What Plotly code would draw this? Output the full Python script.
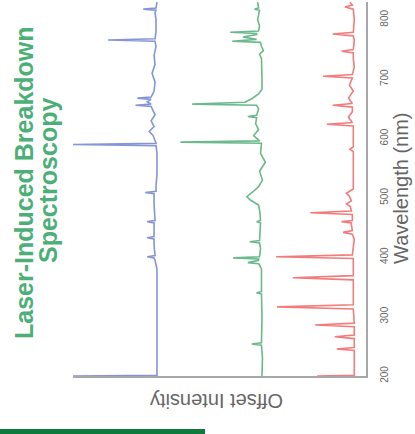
import plotly.graph_objects as go

# Emission spectra (wavelength in nm, relative intensity), one list per sample
blue_wavelength = [200, 201, 300, 380, 395, 399, 401, 403, 420, 431, 433, 435, 452, 458, 460, 462,
                   490, 507, 509, 511, 520, 540, 575, 588, 590, 592, 605, 612, 620, 630, 640, 648,
                   654, 656, 658, 662, 666, 668, 670, 680, 695, 710, 725, 740, 755, 764, 766, 768,
                   780, 800, 812, 816, 818, 820, 830]
blue_intensity = [1.00, 0.14, 0.14, 0.14, 0.16, 0.17, 0.24, 0.16, 0.17, 0.17, 0.24, 0.17, 0.17, 0.17, 0.24, 0.16,
                  0.17, 0.17, 0.26, 0.15, 0.15, 0.14, 0.14, 0.15, 1.00, 0.15, 0.18, 0.22, 0.17, 0.20, 0.16, 0.18,
                  0.20, 0.36, 0.20, 0.24, 0.20, 0.34, 0.20, 0.17, 0.16, 0.19, 0.16, 0.17, 0.15, 0.16, 0.64, 0.16,
                  0.15, 0.15, 0.16, 0.15, 0.28, 0.15, 0.14]

green_wavelength = [200, 230, 252, 254, 256, 300, 338, 340, 342, 380, 387, 389, 391, 395, 397, 399, 401,
                    415, 424, 426, 428, 450, 458, 460, 462, 475, 488, 496, 502, 510, 519, 530, 545,
                    560, 575, 592, 594, 596, 605, 615, 625, 635, 637, 639, 650, 656, 658, 661, 667,
                    675, 683, 700, 720, 735, 742, 748, 755, 762, 764, 767, 771, 775, 777, 779, 781,
                    790, 800, 812, 816, 818, 820, 830]
green_intensity = [0.065, 0.06, 0.07, 0.17, 0.07, 0.065, 0.07, 0.12, 0.07, 0.07, 0.09, 0.10, 0.21, 0.10, 0.10, 0.36, 0.09,
                   0.08, 0.09, 0.19, 0.09, 0.08, 0.08, 0.12, 0.08, 0.085, 0.10, 0.18, 0.22, 0.16, 0.10, 0.06, 0.09,
                   0.03, 0.08, 0.07, 0.90, 0.09, 0.15, 0.10, 0.13, 0.12, 0.21, 0.12, 0.10, 0.12, 0.78, 0.24, 0.17,
                   0.10, 0.065, 0.065, 0.065, 0.07, 0.09, 0.05, 0.07, 0.08, 0.37, 0.12, 0.26, 0.12, 0.12, 0.39, 0.10,
                   0.09, 0.11, 0.09, 0.09, 0.14, 0.10, 0.11]

red_wavelength = [200, 201, 243, 245.6, 248, 263, 266, 269, 283, 286, 289, 313, 316.5, 320, 362, 365.5,
                  369, 398, 401, 404, 430, 439, 442, 445, 455, 458, 460, 462, 472, 475, 478, 485,
                  490, 495, 503, 508, 515, 540, 570, 578, 582, 586, 610, 621, 624, 627, 636, 645,
                  653, 656, 659, 668, 680, 690, 702, 705, 708, 720, 735, 744, 747, 750, 765, 773,
                  776, 779, 800, 818, 821.6, 825, 830]
red_intensity = [0.50, 0.12, 0.12, 0.30, 0.12, 0.12, 0.32, 0.12, 0.12, 0.52, 0.12, 0.13, 0.91, 0.13, 0.13, 0.75,
                 0.13, 0.13, 0.92, 0.14, 0.12, 0.14, 0.235, 0.14, 0.15, 0.15, 0.25, 0.14, 0.14, 0.57, 0.15, 0.16,
                 0.20, 0.15, 0.17, 0.20, 0.13, 0.13, 0.13, 0.13, 0.165, 0.13, 0.13, 0.13, 0.40, 0.14, 0.18, 0.14,
                 0.14, 0.34, 0.14, 0.18, 0.13, 0.17, 0.14, 0.44, 0.14, 0.12, 0.13, 0.13, 0.25, 0.13, 0.12, 0.13,
                 0.34, 0.13, 0.12, 0.13, 0.215, 0.14, 0.165]

# Vertical offsets that separate the stacked spectra
offsets = {"red": 0.0, "green": 1.0, "blue": 2.0}

wavelength_ticks = [200, 300, 400, 500, 600, 700, 800]

colors = {"blue": "#8595d6", "green": "#6bb98c", "red": "#f27c7c"}
title_green = "#4caf78"
bar_green = "#0e7a3c"
axis_gray = "#a8a8a8"
label_gray = "#666666"

W, H = 415, 434
L, R, T, B = 73, 366, 2, 376  # plot area edges in pixels


def px(x):
    return (x - L) / (R - L)


def py(y):
    return (B - y) / (B - T)


fig = go.Figure()
series = [
    ("red", red_wavelength, red_intensity),
    ("green", green_wavelength, green_intensity),
    ("blue", blue_wavelength, blue_intensity),
]
for name, wl, inten in series:
    fig.add_trace(go.Scatter(
        x=[v + offsets[name] for v in inten],
        y=wl,
        mode="lines",
        line=dict(color=colors[name], width=1.6),
        showlegend=False,
        hoverinfo="skip",
    ))

fig.update_layout(
    width=W, height=H,
    margin=dict(l=L, r=W - R, t=T, b=H - B),
    paper_bgcolor="white",
    plot_bgcolor="white",
    font=dict(family="Liberation Sans, Arial, sans-serif", color=label_gray),
    xaxis=dict(
        range=[3.0, 0.0],
        showgrid=False, zeroline=False,
        showline=True, linecolor=axis_gray, linewidth=1.5,
        showticklabels=False, ticks="",
    ),
    yaxis=dict(
        range=[200, 830],
        side="right",
        showgrid=False, zeroline=False,
        showline=True, linecolor=axis_gray, linewidth=1.5,
        tickmode="array", tickvals=wavelength_ticks,
        ticktext=[str(t) for t in wavelength_ticks],
        tickangle=-90, ticks="",
        ticklabelstandoff=8,
        tickfont=dict(size=10, color=label_gray),
    ),
)

annotations = [
    dict(text="<b>Laser-Induced Breakdown</b>", x=px(24), y=py(183), textangle=-90,
         font=dict(size=25, color=title_green)),
    dict(text="<b>Spectroscopy</b>", x=px(48), y=py(181), textangle=-90,
         font=dict(size=25, color=title_green)),
    dict(text="Offset Intensity", x=px(217), y=py(401), textangle=180,
         font=dict(size=20, color=label_gray)),
    dict(text="Wavelength (nm)", x=px(401), y=py(188), textangle=-90,
         font=dict(size=20, color=label_gray)),
]
for a in annotations:
    a.update(xref="paper", yref="paper", showarrow=False, xanchor="center", yanchor="middle")
fig.update_layout(annotations=annotations)

# Accent bar along the lower edge
fig.add_shape(type="rect", xref="paper", yref="paper",
              x0=px(-2), x1=px(205), y0=py(437), y1=py(429),
              fillcolor=bar_green, line=dict(width=0))

fig.write_html("out.html")
